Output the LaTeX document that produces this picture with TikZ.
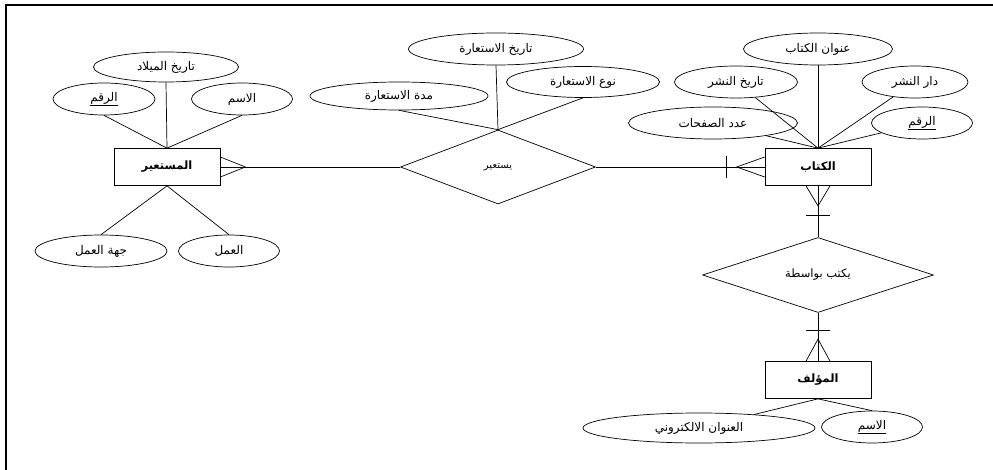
\documentclass[tikz,border=0pt]{standalone}
\usepackage{fontspec}
\usetikzlibrary{shapes,arrows}
\usetikzlibrary{positioning}
\usetikzlibrary{calc}
\TeXXeTstate=1
\newfontfamily\arabicfont[Script=Arabic]{DejaVu Sans}
\newcommand\artext[1]{\arabicfont\beginR #1\endR}
\newcommand\keytext[1]{\underline{\arabicfont\beginR #1\endR}}
\newcommand\attrnode[5][]{%
  \node[attr,#1,minimum width=#2pt] (#3) at (#4) {#5};
}

\begin{document}
\begin{tikzpicture}[
x=1pt, y=-1pt,
line width=0.7pt,
attr/.style={
  ellipse,
  draw,
  inner sep=0pt,
  minimum height=32pt,
  font=\fontsize{12}{14}\selectfont},
entity/.style={
  rectangle,
  draw,
  inner sep=0pt,
  minimum width=106pt,
  minimum height=37pt,
  font=\fontsize{11.5}{13}\selectfont\bfseries},
rel/.style={
  diamond,
  draw,
  inner sep=0pt,
  aspect=2.6,
  font=\fontsize{10}{12}\selectfont}
]
\useasboundingbox (0,0) rectangle (993,470);
\draw[line width=2pt] (993,5.5) -- (5.5,5.5) -- (5.5,470);

% borrower
\node[entity] (mustaeer) at (167,167) {\artext{المستعير}};
\attrnode[minimum height=30pt]{145}{birthdate}{166,67}{\artext{تاريخ الميلاد}}
\attrnode{102}{borrowerid}{104,99}{\keytext{الرقم}}
\attrnode{101}{borrowername}{242,99}{\artext{الاسم}}
\attrnode{132}{workplace}{101,251}{\artext{جهة العمل}}
\attrnode{101}{job}{229,251}{\artext{العمل}}

% borrows
\node[rel, minimum width=195pt, minimum height=74pt] (yastaeer) at (498,167) {\artext{يستعير}};
\attrnode{175}{loandate}{496,49}{\artext{تاريخ الاستعارة}}
\attrnode[minimum height=28pt]{178}{loanperiod}{399,96}{\artext{مدة الاستعارة}}
\attrnode[minimum height=31pt]{153}{loantype}{583,82}{\artext{نوع الاستعارة}}

% book
\node[entity] (kitab) at (818,167) {\artext{الكتاب}};
\attrnode{149}{title}{818,49}{\artext{عنوان الكتاب}}
\attrnode{123}{pubdate}{736,82}{\artext{تاريخ النشر}}
\attrnode{106}{publisher}{915,82}{\artext{دار النشر}}
\attrnode{169}{pages}{713,123}{\artext{عدد الصفحات}}
\attrnode{101}{bookid}{922,123}{\keytext{الرقم}}

% written by
\node[rel, minimum width=231pt, minimum height=75pt, font=\fontsize{11.5}{13}\selectfont] (writtenby) at (818,275) {\artext{يكتب بواسطة}};

% author
\node[entity] (moallif) at (818,380) {\artext{المؤلف}};
\attrnode[minimum height=30pt]{232}{email}{699,428}{\artext{العنوان الالكتروني}}
\attrnode{101}{authorname}{872,427}{\keytext{الاسم}}

% attributes
\draw (birthdate.south) -- (mustaeer.north);
\draw (borrowerid.south) -- (mustaeer.north);
\draw (borrowername.south) -- (mustaeer.north);
\draw (workplace.north) -- (mustaeer.south);
\draw (job.north) -- (mustaeer.south);
\draw (loandate.south) -- (yastaeer.north);
\draw (loanperiod.south) -- (yastaeer.north);
\draw (loantype.south) -- (yastaeer.north);
\draw (title.south) -- (kitab.north);
\draw (pubdate) -- (kitab.north);
\draw (publisher) -- (kitab.north);
\draw (pages) -- (kitab.north);
\draw (bookid) -- (kitab.north);
\draw (email) -- (moallif.south);
\draw (authorname.north) -- (moallif.south);

% relationships
\draw (mustaeer.east) -- (yastaeer.west);
\draw ($(mustaeer.east)+(0,-10)$) -- ($(mustaeer.east)+(25,0)$) -- ($(mustaeer.east)+(0,10)$);
\draw (kitab.west) -- (yastaeer.east);
\draw ($(kitab.west)+(0,-10)$) -- ($(kitab.west)+(-28,0)$) -- ($(kitab.west)+(0,10)$);
\draw ($(kitab.west)+(-38,-11)$) -- ($(kitab.west)+(-38,11)$);
\draw (kitab.south) -- (writtenby.north);
\draw ($(kitab.south)+(-12,0)$) -- ($(kitab.south)+(0,20)$) -- ($(kitab.south)+(12,0)$);
\draw ($(kitab.south)+(-12,30)$) -- ($(kitab.south)+(12,30)$);
\draw (writtenby.south) -- (moallif.north);
\draw ($(moallif.north)+(-12,0)$) -- ($(moallif.north)+(0,-22)$) -- ($(moallif.north)+(12,0)$);
\draw ($(moallif.north)+(-12,-31)$) -- ($(moallif.north)+(12,-31)$);
\end{tikzpicture}
\end{document}
